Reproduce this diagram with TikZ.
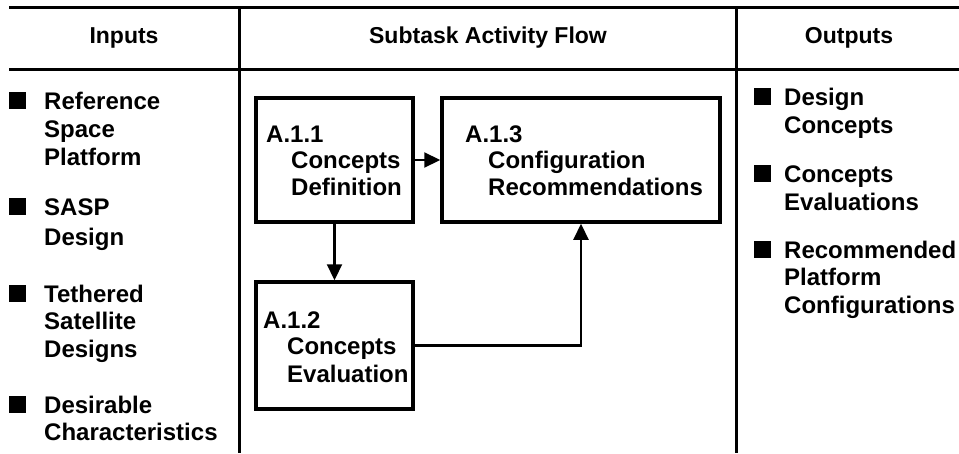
\documentclass[tikz,border=0pt]{standalone}
\usepackage{fontspec}
\setmainfont{Liberation Sans}
\usetikzlibrary{arrows.meta}
\begin{document}
\begin{tikzpicture}[x=1pt,y=-1pt,
  txt/.style={anchor=base west,inner sep=0pt,font=\fontsize{24}{26}\selectfont\bfseries},
  hdr/.style={anchor=base,inner sep=0pt,font=\fontsize{23}{26}\selectfont\bfseries},
  bul/.style={fill=black,inner sep=0pt,minimum size=17pt,anchor=south west},
  rule/.style={line width=3pt},
  taskbox/.style={draw,line width=3.5pt,inner sep=0pt},
  flow/.style={line width=2.2pt,-{Triangle[length=16pt,width=15pt]}}]
\useasboundingbox (0,0) rectangle (959,453);
% table frame
\coordinate (tl) at (9,7);  \coordinate (tr) at (959,7);
\coordinate (hl) at (9,69); \coordinate (hr) at (959,69);
\coordinate (v1t) at (239,7); \coordinate (v1b) at (239,453);
\coordinate (v2t) at (736,7); \coordinate (v2b) at (736,453);
\draw[rule] (tl) -- (tr);
\draw[rule] (hl) -- (hr);
\draw[rule] (v1t) -- (v1b);
\draw[rule] (v2t) -- (v2b);
% headers
\node[hdr] (hin) at (124,43) {Inputs};
\node[hdr] (hflow) at (488,43) {Subtask Activity Flow};
\node[hdr] (hout) at (849,43) {Outputs};
% inputs
\node[bul] (bi1) at (9,109) {};
\node[txt] (i1a) at (44,109) {Reference};
\node[txt] (i1b) at (44,137) {Space};
\node[txt] (i1c) at (44,165) {Platform};
\node[bul] (bi2) at (9,215) {};
\node[txt] (i2a) at (44,215) {SASP};
\node[txt] (i2b) at (44,245) {Design};
\node[bul] (bi3) at (9,302) {};
\node[txt] (i3a) at (44,302) {Tethered};
\node[txt] (i3b) at (44,329) {Satellite};
\node[txt] (i3c) at (44,357) {Designs};
\node[bul] (bi4) at (9,413) {};
\node[txt] (i4a) at (44,413) {Desirable};
\node[txt] (i4b) at (44,440) {Characteristics};
% outputs
\node[bul] (bo1) at (754,105) {};
\node[txt] (o1a) at (784,105) {Design};
\node[txt] (o1b) at (784,133) {Concepts};
\node[bul] (bo2) at (754,182) {};
\node[txt] (o2a) at (784,182) {Concepts};
\node[txt] (o2b) at (784,210) {Evaluations};
\node[bul] (bo3) at (754,258) {};
\node[txt] (o3a) at (784,258) {Recommended};
\node[txt] (o3b) at (784,285) {Platform};
\node[txt] (o3c) at (784,313) {Configurations};
% task boxes
\node[taskbox,minimum width=157pt,minimum height=124pt] (b1) at (334.5,160) {};
\node[taskbox,minimum width=278pt,minimum height=124pt] (b3) at (581,160) {};
\node[taskbox,minimum width=157pt,minimum height=127pt] (b2) at (334.5,345.5) {};
\node[txt] (t1a) at (266,142) {A.1.1};
\node[txt] (t1b) at (291,168) {Concepts};
\node[txt] (t1c) at (291,195) {Definition};
\node[txt] (t3a) at (465,142) {A.1.3};
\node[txt] (t3b) at (488,168) {Configuration};
\node[txt] (t3c) at (488,195) {Recommendations};
\node[txt] (t2a) at (263,328) {A.1.2};
\node[txt] (t2b) at (287,354) {Concepts};
\node[txt] (t2c) at (287,382) {Evaluation};
% connectors
\draw[flow] (b1.east) -- (b3.west);
\draw[flow] (b1.south) -- (b2.north);
\draw[flow] (b2.east) -| (b3.south);
\end{tikzpicture}
\end{document}
